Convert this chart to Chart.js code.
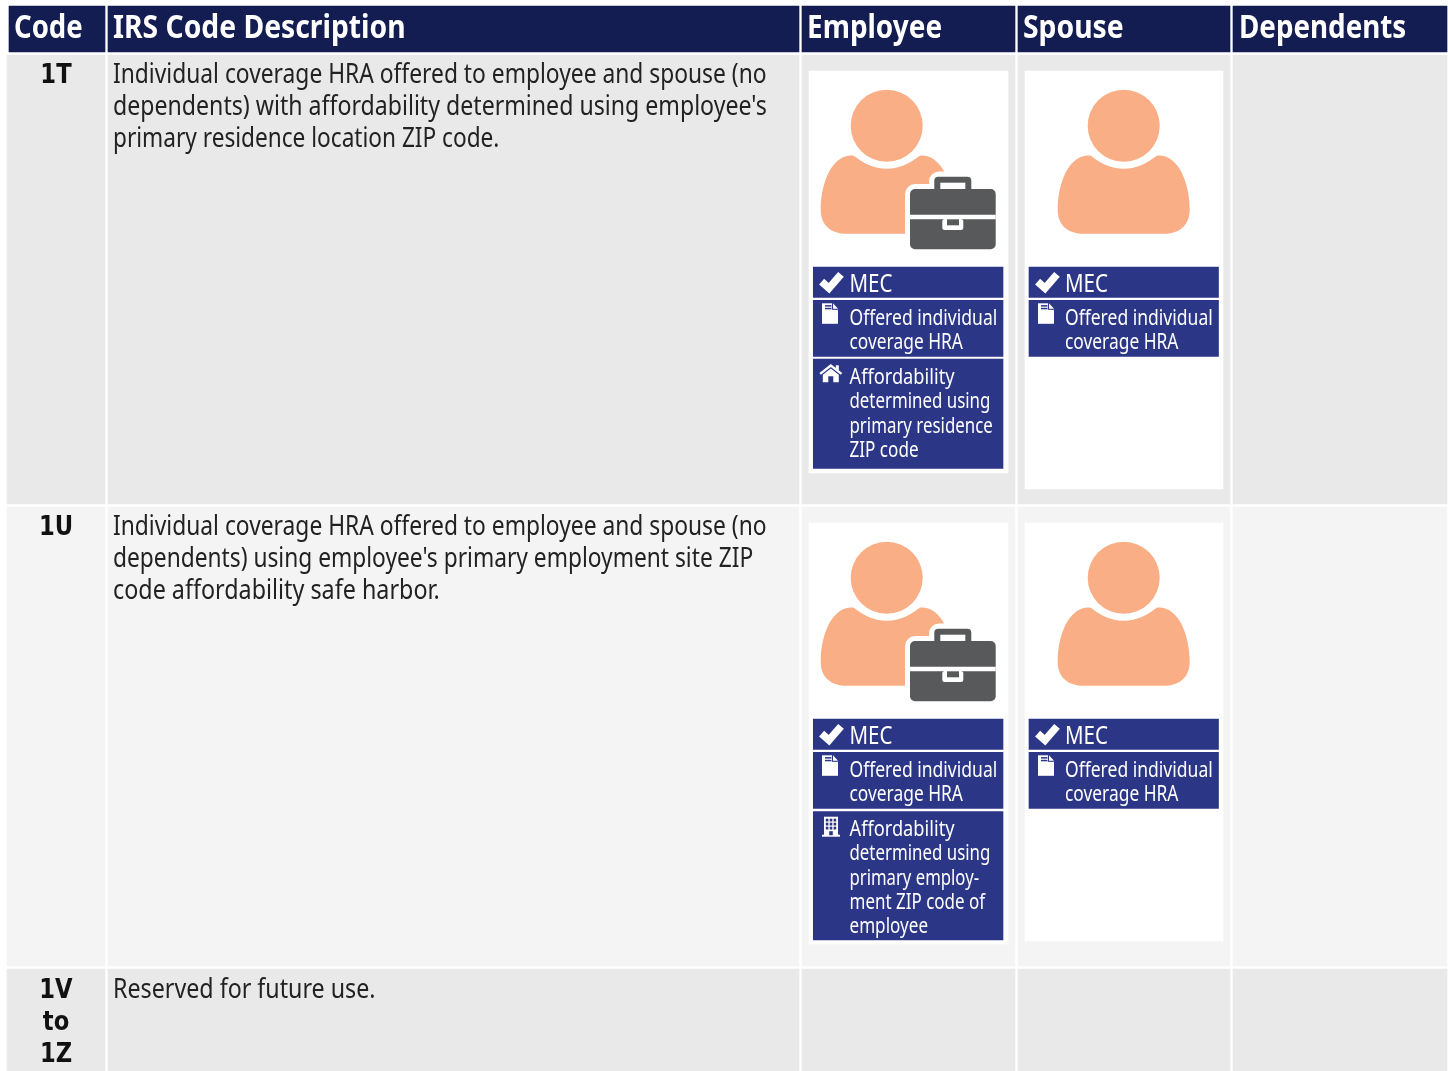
<!DOCTYPE html>
<html>
<head>
<meta charset="utf-8">
<title>IRS codes 1T to 1Z</title>
<style>
  html, body { margin: 0; padding: 0; background: #fff; overflow: hidden; }
  canvas { display: block; }
</style>
<script src="https://cdn.jsdelivr.net/npm/chart.js@4/dist/chart.umd.min.js"></script>
</head>
<body>
<canvas id="codeTable" width="1448" height="1071"></canvas>
<script>
// table content
const columnLabels = ["Code", "IRS Code Description", "Employee", "Spouse", "Dependents"];
const rowCodes = [["1T"], ["1U"], ["1V", "to", "1Z"]];
const rowDescriptions = [
  ["Individual coverage HRA offered to employee and spouse (no",
   "dependents) with affordability determined using employee's",
   "primary residence location ZIP code."],
  ["Individual coverage HRA offered to employee and spouse (no",
   "dependents) using employee's primary employment site ZIP",
   "code affordability safe harbor."],
  ["Reserved for future use."]
];
const mecLabel = "MEC";
const offeredLines = ["Offered individual", "coverage HRA"];
const residenceLines = ["Affordability", "determined using", "primary residence", "ZIP code"];
const employmentLines = ["Affordability", "determined using", "primary employ-", "ment ZIP code of", "employee"];

// layout, in page pixels (the scales below run 0..1448 and 0..1071)
const columnEdges = [[9, 105], [108, 799], [802, 1015], [1018, 1230], [1233, 1447]];
const headerEdge = [6, 52];
const rowEdges = [[55, 504], [507, 966], [969, 1071]];
const rowFills = ["#e9e9e9", "#f4f4f4", "#e9e9e9"];
const bodyLeft = 7;
const rowOffset = 452;

// how far each line gets condensed to fit the original's narrow face
const headerSqueeze = [0.86, 0.884, 0.873, 0.885, 0.868];
const descSqueeze = [[0.829, 0.841, 0.823], [0.829, 0.827, 0.848], [0.845]];
const boxSqueeze = {
  "Affordability": 0.848,
  "Offered individual": 0.815,
  "coverage HRA": 0.808,
  "determined using": 0.784,
  "primary residence": 0.784,
  "primary employ-": 0.777,
  "ment ZIP code of": 0.79
};

const NAVY = "#141d52";
const BLUE = "#2c3687";
const PEACH = "#f9ae85";
const SLATE = "#58595b";
const BODY_FONT = "Noto Sans";

function rect(l, t, r, b, color) {
  return { l, t, r, b, color };
}

function buildRects() {
  const out = [];
  columnEdges.forEach((c) => out.push(rect(c[0], headerEdge[0], c[1], headerEdge[1], NAVY)));
  rowEdges.forEach((row, i) => {
    columnEdges.forEach((c, ci) => {
      out.push(rect(ci === 0 ? bodyLeft : c[0], row[0], c[1], row[1], rowFills[i]));
    });
  });
  // white cards
  out.push(rect(809, 71, 1008, 473, "#fff"));
  out.push(rect(1025, 71, 1223, 489, "#fff"));
  out.push(rect(809, 523, 1008, 944, "#fff"));
  out.push(rect(1025, 523, 1223, 941, "#fff"));
  // blue boxes
  [0, rowOffset].forEach((dy) => {
    [[813.3, 1003], [1029, 1218.5]].forEach((x) => {
      out.push(rect(x[0], 267 + dy, x[1], 297.5 + dy, BLUE));
      out.push(rect(x[0], 300.3 + dy, x[1], 356.5 + dy, BLUE));
    });
  });
  out.push(rect(813.3, 359, 1003, 468.5, BLUE));
  out.push(rect(813.3, 811.5, 1003, 940, BLUE));
  return out;
}

// one floating bar per rectangle, earlier rects sit underneath
const rectDatasets = buildRects().map((r, i) => ({
  data: [{ x: [r.l, r.r], y: (r.t + r.b) / 2 }],
  backgroundColor: r.color,
  barThickness: r.b - r.t,
  grouped: false,
  borderWidth: 0,
  order: -i
}));

function drawText(ctx, text, x, y, font, color, squeeze, align) {
  ctx.font = font;
  ctx.fillStyle = color;
  ctx.textAlign = align || "left";
  ctx.textBaseline = "alphabetic";
  ctx.fillText(text, x, y, ctx.measureText(text).width * squeeze);
}

function drawBoxLine(ctx, text, x, y) {
  drawText(ctx, text, x, y, "400 21.5px '" + BODY_FONT + "'", "#fff", boxSqueeze[text] || 0.795);
}

function drawPerson(ctx, cx, cy) {
  ctx.fillStyle = PEACH;
  ctx.beginPath();
  ctx.arc(cx, cy, 36, 0, Math.PI * 2);
  ctx.fill();
  ctx.beginPath();
  ctx.moveTo(cx - 33, cy + 30);
  ctx.bezierCurveTo(cx - 24, cy + 37, cx - 13, cy + 43, cx, cy + 43);
  ctx.bezierCurveTo(cx + 13, cy + 43, cx + 24, cy + 37, cx + 33, cy + 30);
  ctx.bezierCurveTo(cx + 55, cy + 28, cx + 66, cy + 58, cx + 66, cy + 84);
  ctx.bezierCurveTo(cx + 66, cy + 100, cx + 55, cy + 108, cx + 40, cy + 108);
  ctx.lineTo(cx - 40, cy + 108);
  ctx.bezierCurveTo(cx - 55, cy + 108, cx - 66, cy + 100, cx - 66, cy + 84);
  ctx.bezierCurveTo(cx - 66, cy + 58, cx - 55, cy + 28, cx - 33, cy + 30);
  ctx.closePath();
  ctx.fill();
}

function roundBox(ctx, l, t, r, b, rad, color) {
  ctx.fillStyle = color;
  ctx.beginPath();
  ctx.roundRect(l, t, r - l, b - t, rad);
  ctx.fill();
}

function drawBriefcase(ctx, dy) {
  // white halo cuts into the shoulder
  roundBox(ctx, 905, 184 + dy, 1001, 254 + dy, 10, "#fff");
  roundBox(ctx, 929, 171.5 + dy, 976, 192 + dy, 10, "#fff");
  roundBox(ctx, 934.3, 176.7 + dy, 971.3, 195 + dy, 4, SLATE);
  roundBox(ctx, 940.3, 182.7 + dy, 965.3, 192 + dy, 0, "#fff");
  roundBox(ctx, 910, 189 + dy, 995.7, 249.3 + dy, 5, SLATE);
  roundBox(ctx, 910, 214.7 + dy, 995.7, 219.3 + dy, 0, "#fff");
  roundBox(ctx, 942.3, 219 + dy, 963.3, 230 + dy, 2.5, "#fff");
  roundBox(ctx, 947, 219.3 + dy, 959, 225.3 + dy, 0, SLATE);
}

function drawCheck(ctx, x, y) {
  ctx.strokeStyle = "#fff";
  ctx.lineWidth = 7.5;
  ctx.lineJoin = "miter";
  ctx.lineCap = "butt";
  ctx.beginPath();
  ctx.moveTo(x + 2.6, y + 9.6);
  ctx.lineTo(x + 10, y + 16.2);
  ctx.lineTo(x + 22, y + 2.4);
  ctx.stroke();
}

function drawDoc(ctx, x, y) {
  ctx.fillStyle = "#fff";
  ctx.fillRect(x, y, 10, 7);
  ctx.fillRect(x, y + 6.5, 16, 14);
  ctx.beginPath();
  ctx.moveTo(x + 11, y);
  ctx.lineTo(x + 16, y + 5.5);
  ctx.lineTo(x + 11, y + 5.5);
  ctx.closePath();
  ctx.fill();
  ctx.fillStyle = BLUE;
  ctx.fillRect(x + 3, y + 1.8, 6.5, 1.5);
  ctx.fillRect(x + 3, y + 4.5, 6.5, 1.5);
}

function drawHouse(ctx, x, y) {
  ctx.strokeStyle = "#fff";
  ctx.fillStyle = "#fff";
  ctx.lineWidth = 2.4;
  ctx.lineCap = "butt";
  ctx.beginPath();
  ctx.moveTo(x + 0.8, y + 9.6);
  ctx.lineTo(x + 11.5, y + 1.2);
  ctx.lineTo(x + 22.2, y + 9.6);
  ctx.stroke();
  ctx.fillRect(x + 16.5, y + 1, 3, 5);
  ctx.beginPath();
  ctx.moveTo(x + 3.5, y + 10.5);
  ctx.lineTo(x + 11.5, y + 4.2);
  ctx.lineTo(x + 19.5, y + 10.5);
  ctx.lineTo(x + 19.5, y + 18);
  ctx.lineTo(x + 14, y + 18);
  ctx.lineTo(x + 14, y + 12);
  ctx.lineTo(x + 9, y + 12);
  ctx.lineTo(x + 9, y + 18);
  ctx.lineTo(x + 3.5, y + 18);
  ctx.closePath();
  ctx.fill();
}

function drawBuilding(ctx, x, y) {
  ctx.fillStyle = "#fff";
  ctx.fillRect(x + 2, y, 14, 19);
  ctx.fillRect(x, y + 18, 18, 2);
  ctx.fillStyle = BLUE;
  for (let r = 0; r < 3; r++) {
    for (let c = 0; c < 3; c++) {
      ctx.fillRect(x + 3.8 + c * 3.9, y + 2 + r * 4, 2.6, 2.8);
    }
  }
  ctx.fillRect(x + 7.2, y + 14.5, 3.6, 4);
}

const tablePlugin = {
  id: "tableContent",
  afterDatasetsDraw(chart) {
    const ctx = chart.ctx;
    ctx.save();

    // header row
    const headerX = [14, 113, 807, 1023, 1239];
    columnLabels.forEach((label, i) => {
      drawText(ctx, label, headerX[i], 37.5, "700 32px '" + BODY_FONT + "'", "#fff", headerSqueeze[i]);
    });

    // codes and descriptions
    const firstBaseline = [83, 535, 998];
    rowCodes.forEach((lines, i) => {
      lines.forEach((t, k) => {
        drawText(ctx, t, 56, firstBaseline[i] + k * 32, "700 27px 'DejaVu Sans'", "#111", 0.84, "center");
      });
    });
    rowDescriptions.forEach((lines, i) => {
      lines.forEach((t, k) => {
        drawText(ctx, t, 113, firstBaseline[i] + k * 32, "400 27.5px '" + BODY_FONT + "'", "#222", descSqueeze[i][k]);
      });
    });

    // employee and spouse cards
    [0, rowOffset].forEach((dy, row) => {
      drawPerson(ctx, 886.7, 125.7 + dy);
      drawBriefcase(ctx, dy);
      drawPerson(ctx, 1123.7, 125.7 + dy);

      [[819, 822, 849.5], [1035, 1038, 1065]].forEach((x) => {
        drawCheck(ctx, x[0], 272 + dy);
        drawDoc(ctx, x[1], 303.3 + dy);
        drawText(ctx, mecLabel, x[2], 291.7 + dy, "400 25px '" + BODY_FONT + "'", "#fff", 0.82);
        offeredLines.forEach((t, k) => drawBoxLine(ctx, t, x[2], 325 + dy + k * 24.3));
      });

      const affordLines = row === 0 ? residenceLines : employmentLines;
      affordLines.forEach((t, k) => drawBoxLine(ctx, t, 849.5, 384 + dy + k * 24.3));
    });
    drawHouse(ctx, 819.3, 364.3);
    drawBuilding(ctx, 822, 816.7);

    ctx.restore();
  }
};

new Chart(document.getElementById("codeTable"), {
  type: "bar",
  data: { datasets: rectDatasets },
  options: {
    indexAxis: "y",
    responsive: false,
    animation: false,
    events: [],
    layout: { padding: 0 },
    plugins: { legend: { display: false }, tooltip: { enabled: false } },
    scales: {
      x: { type: "linear", display: false, min: 0, max: 1448 },
      y: { type: "linear", display: false, min: 0, max: 1071, reverse: true, offset: false }
    }
  },
  plugins: [tablePlugin]
});
</script>
</body>
</html>
